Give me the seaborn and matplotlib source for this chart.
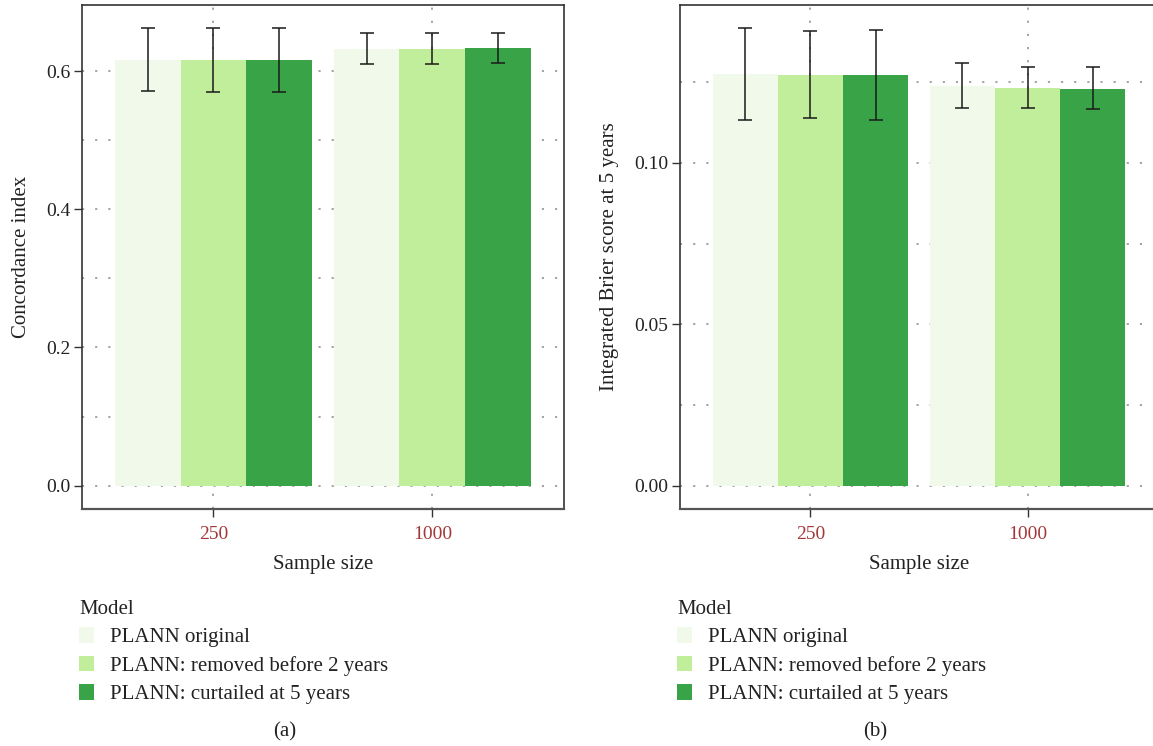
import matplotlib
matplotlib.use("Agg")
import matplotlib.pyplot as plt
from matplotlib.patches import Patch
import numpy as np
import pandas as pd
import seaborn as sns

# ---- data -------------------------------------------------------------
sample_sizes = ["250", "1000"]
models = ["PLANN original", "PLANN: removed before 2 years", "PLANN: curtailed at 5 years"]
colors = ["#f1faea", "#c1ee9b", "#39a447"]

# Concordance index (mean, lower, upper) per model, per sample size
cindex_mean = {
    "PLANN original":                [0.6164, 0.6324],
    "PLANN: removed before 2 years": [0.6164, 0.6324],
    "PLANN: curtailed at 5 years":   [0.6164, 0.6338],
}
cindex_lo = {
    "PLANN original":                [0.5706, 0.6106],
    "PLANN: removed before 2 years": [0.5703, 0.6106],
    "PLANN: curtailed at 5 years":   [0.5694, 0.6111],
}
cindex_hi = {
    "PLANN original":                [0.6620, 0.6545],
    "PLANN: removed before 2 years": [0.6620, 0.6545],
    "PLANN: curtailed at 5 years":   [0.6620, 0.6550],
}

# Integrated Brier score at 5 years
ibs_mean = {
    "PLANN original":                [0.12772, 0.12400],
    "PLANN: removed before 2 years": [0.12741, 0.12337],
    "PLANN: curtailed at 5 years":   [0.12741, 0.12306],
}
ibs_lo = {
    "PLANN original":                [0.11344, 0.11717],
    "PLANN: removed before 2 years": [0.11406, 0.11696],
    "PLANN: curtailed at 5 years":   [0.11344, 0.11665],
}
ibs_hi = {
    "PLANN original":                [0.14178, 0.13103],
    "PLANN: removed before 2 years": [0.14085, 0.12989],
    "PLANN: curtailed at 5 years":   [0.14116, 0.12968],
}

# ---- style ------------------------------------------------------------
sns.set_theme(style="white")
plt.rcParams["font.family"] = ["Liberation Serif", "DejaVu Serif"]
plt.rcParams["axes.linewidth"] = 1.2

TICK_COLOR = "#a3383a"
TEXT_COLOR = "#222222"
GRID_STYLE = dict(color="#8a8a8a", linestyle=(0, (1.4, 7.2)), linewidth=1.1)


def long_table(means):
    rows = []
    for m in models:
        for s, v in zip(sample_sizes, means[m]):
            rows.append({"Sample size": s, "Model": m, "value": v})
    return pd.DataFrame(rows)


def draw_panel(ax, means, lo, hi, ylabel, major, minor):
    df = long_table(means)
    sns.barplot(data=df, x="Sample size", y="value", hue="Model",
                order=sample_sizes, hue_order=models, palette=colors,
                width=0.9, gap=0, errorbar=None, saturation=1,
                linewidth=0, edgecolor="none",
                legend=False, ax=ax, zorder=2)
    # error bars at the bar centres seaborn placed
    for container, m in zip(ax.containers, models):
        xs = [b.get_x() + b.get_width() / 2 for b in container]
        mu = np.array(means[m])
        yerr = [mu - np.array(lo[m]), np.array(hi[m]) - mu]
        ax.errorbar(xs, mu, yerr=yerr, fmt="none", ecolor="#1a1a1a",
                    elinewidth=1.1, capsize=5.3, capthick=1.1, zorder=3)

    top = max(max(v) for v in hi.values())
    ax.set_ylim(-0.05 * top, 1.05 * top)
    ax.set_xlim(-0.6, 1.6)

    ax.set_yticks(major)
    ax.set_yticks(minor, minor=True)
    ax.set_axisbelow(True)
    ax.yaxis.grid(True, which="both", **GRID_STYLE)
    ax.xaxis.grid(True, **GRID_STYLE)

    for sp in ax.spines.values():
        sp.set_visible(True)
        sp.set_color("#333333")
        sp.set_linewidth(1.2)
    ax.spines["bottom"].set_color("#555555")
    ax.spines["bottom"].set_linewidth(1.6)

    ax.tick_params(axis="both", which="major", direction="out", length=5.5,
                   width=1.0, color="#333333", labelsize=14, pad=3,
                   left=True, bottom=True)
    ax.tick_params(axis="x", pad=7)
    ax.tick_params(axis="y", which="minor", length=0)
    ax.tick_params(axis="x", labelcolor=TICK_COLOR)
    ax.tick_params(axis="y", labelcolor=TEXT_COLOR)
    ax.set_xlabel("Sample size", fontsize=15, color=TEXT_COLOR, labelpad=9)
    ax.set_ylabel(ylabel, fontsize=15, color=TEXT_COLOR, labelpad=11)


fig = plt.figure(figsize=(11.53, 7.46), dpi=100)
ax1 = fig.add_axes([0.07112, 0.31836, 0.41778, 0.67453])
ax2 = fig.add_axes([0.58977, 0.31836, 0.41457, 0.67453])

draw_panel(ax1, cindex_mean, cindex_lo, cindex_hi, "Concordance index",
           [0.0, 0.2, 0.4, 0.6], [0.1, 0.3, 0.5])
ax1.set_yticklabels(["0.0", "0.2", "0.4", "0.6"])
draw_panel(ax2, ibs_mean, ibs_lo, ibs_hi, "Integrated Brier score at 5 years",
           [0.0, 0.05, 0.10], [0.025, 0.075, 0.125])
ax2.set_yticklabels(["0.00", "0.05", "0.10"])

handles = [Patch(facecolor=c, edgecolor="none") for c in colors]
for xpos in (79 / 1153, 677 / 1153):
    leg = fig.legend(handles, models, title="Model", loc="upper left",
                     bbox_to_anchor=(xpos, 1 - 600 / 746), frameon=False,
                     fontsize=15, title_fontsize=15, handlelength=0.74,
                     handleheight=0.78, handletextpad=0.75, labelspacing=0.40,
                     borderpad=0, borderaxespad=0, alignment="left")
    for t in leg.get_texts():
        t.set_color(TEXT_COLOR)
    leg.get_title().set_color(TEXT_COLOR)

fig.text(285 / 1153, 1 - 732 / 746, "(a)", ha="center", va="center",
         fontsize=15, color=TEXT_COLOR)
fig.text(875 / 1153, 1 - 732 / 746, "(b)", ha="center", va="center",
         fontsize=15, color=TEXT_COLOR)

fig.savefig("out.png", dpi=100)
